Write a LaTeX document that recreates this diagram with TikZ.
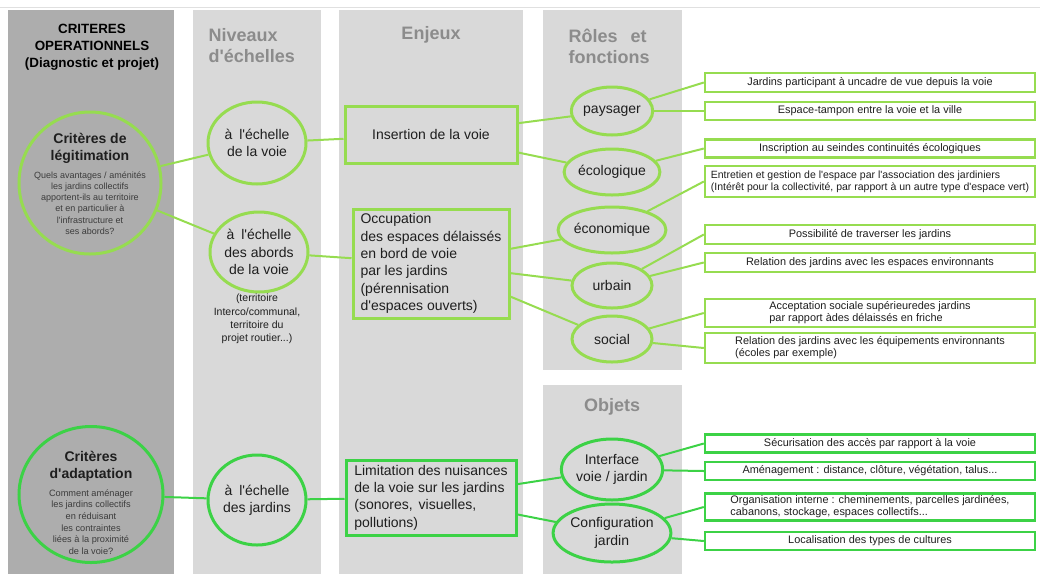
\documentclass[tikz,border=0pt]{standalone}
\usepackage{fontspec}
\setmainfont{Liberation Sans}[Ligatures=TeXOff]
\usetikzlibrary{shapes.geometric}
\definecolor{leafgreen}{HTML}{96DC50}
\definecolor{grassgreen}{HTML}{3CD246}
\definecolor{darkcol}{HTML}{ADADAD}
\definecolor{lightcol}{HTML}{D9D9D9}
\definecolor{headgray}{HTML}{8C8C8C}
\definecolor{inkgray}{HTML}{1E1E1E}
\definecolor{notegray}{HTML}{3C3C3C}
\newcommand{\txt}{\fontsize{14}{17.3}\selectfont}
\newcommand{\fact}[5]{\node[#1,minimum height=#4pt] (#2) at (870,#3) {#5};}
\tikzset{
  ovalA/.style={draw=leafgreen,line width=3pt,ellipse,inner sep=0pt,text=inkgray,font=\txt},
  ovalB/.style={ovalA,draw=grassgreen},
  boxA/.style={draw=leafgreen,line width=3pt,inner sep=3pt,text=inkgray,font=\txt},
  boxB/.style={boxA,draw=grassgreen},
  tagA/.style={draw=leafgreen,line width=2.4pt,minimum width=330pt,inner sep=2pt,align=left,text=inkgray,font=\fontsize{10.9}{12}\selectfont},
  tagB/.style={tagA,draw=grassgreen},
  wireA/.style={leafgreen,line width=2pt},
  wireB/.style={grassgreen,line width=2pt},
  headB/.style={align=left,text=headgray,font=\bfseries\fontsize{18}{21}\selectfont}
}
\begin{document}
\begin{tikzpicture}[x=1pt,y=-1pt]
\useasboundingbox (0,0) rectangle (1040,574);
\draw[black!12,line width=1pt] (0,7.5) -- (1040,7.5);
\fill[darkcol] (8,10) rectangle (174,574);
\fill[lightcol] (193,10) rectangle (321,574);\fill[lightcol] (339,10) rectangle (523,574);
\fill[lightcol] (543,10) rectangle (682,370);\fill[lightcol] (543,385) rectangle (682,574);
% column heads
\node[align=center,font=\bfseries\fontsize{13.4}{17}\selectfont] (crit) at (92,47) {CRITERES\\OPERATIONNELS\\(Diagnostic et projet)};
\node[headB,anchor=west] (niv) at (205,46) {Niveaux\\d'échelles};
\node[headB] (enj) at (431,35) {Enjeux};
\node[headB,anchor=west] (rol) at (565,46) {Rôles\hspace{13pt}et\\fonctions};
\node[headB] (obj) at (612,407) {Objets};
% criteria
\node[ovalA,minimum width=142pt,minimum height=142pt] (leg) at (90,183) {};
\node[align=center,font=\bfseries\fontsize{14}{17}\selectfont,text=inkgray] (legtitle) at (90,148) {Critères de\\légitimation};
\node[align=center,font=\fontsize{9}{11.3}\selectfont,text=notegray] (legnote) at (90,203) {Quels avantages / aménités\\les jardins collectifs\\apportent-ils au territoire\\et en particulier à\\l'infrastructure et\\ses abords?};
\node[ovalB,minimum width=144pt,minimum height=136pt] (ada) at (91,494.5) {};
\node[align=center,font=\bfseries\fontsize{14}{17}\selectfont,text=inkgray] (adatitle) at (91,466.5) {Critères\\d'adaptation};
\node[align=center,font=\fontsize{9.2}{11.6}\selectfont,text=notegray] (adanote) at (91,522) {Comment aménager\\les jardins collectifs\\en réduisant\\les contraintes\\liées à la proximité\\de la voie?};
% scales
\node[ovalA,minimum width=98pt,minimum height=82pt,align=center] (voie) at (257,143) {à\hspace{7pt}l'échelle\\de la voie};
\node[ovalA,minimum width=98pt,minimum height=80pt,align=center] (abords) at (259,252) {à\hspace{7pt}l'échelle\\des abords\\de la voie};
\node[align=center,text=inkgray,font=\fontsize{10.5}{13.2}\selectfont] (terr) at (257,319) {(territoire\\Interco/communal,\\territoire du\\projet routier...)};
\node[ovalB,minimum width=98pt,minimum height=90pt,align=center] (jard) at (257,500) {à\hspace{7pt}l'échelle\\des jardins};
% stakes
\node[boxA,minimum width=172pt,minimum height=57pt] (ins) at (431,134.5) {Insertion de la voie};
\node[boxA,minimum width=156pt,minimum height=109pt,align=left] (occ) at (431,263.5) {Occupation\\des espaces délaissés\\en bord de voie\\par les jardins\\(pérennisation\\d'espaces ouverts)};
\node[boxB,minimum width=170pt,minimum height=75pt,align=left] (lim) at (431,497.5) {Limitation des nuisances\\de la voie sur les jardins\\(sonores,\hspace{6pt}visuelles,\\pollutions)};
% roles and objects
\node[ovalA,minimum width=80pt,minimum height=48pt] (pay) at (612,111) {paysager};
\node[ovalA,minimum width=90pt,minimum height=46pt] (eco) at (612,172) {écologique};
\node[ovalA,minimum width=100pt,minimum height=46pt] (econ) at (612,230) {économique};
\node[ovalA,minimum width=80pt,minimum height=45pt] (urb) at (612,285.5) {urbain};
\node[ovalA,minimum width=80pt,minimum height=46pt] (soc) at (612,339) {social};
\node[ovalB,minimum width=101pt,minimum height=61pt,align=center] (intf) at (612,469.5) {Interface\\voie / jardin};
\node[ovalB,minimum width=115pt,minimum height=58pt,align=center] (conf) at (612,533) {Configuration\\jardin};
% details
\fact{tagA}{f1}{82.5}{19}{Jardins participant à uncadre de vue depuis la voie}
\fact{tagA}{f2}{111}{18}{Espace-tampon entre la voie et la ville}
\fact{tagA}{f3}{148.5}{18}{Inscription au seindes continuités écologiques}
\fact{tagA,font=\fontsize{10.5}{12}\selectfont}{f4}{181.5}{31}{Entretien et gestion de l'espace par l'association des jardiniers\\(Intérêt pour la collectivité, par rapport à un autre type d'espace vert)}
\fact{tagA}{f5}{234.5}{19}{Possibilité de traverser les jardins}
\fact{tagA}{f6}{262.5}{19}{Relation des jardins avec les espaces environnants}
\fact{tagA}{f7}{313}{28}{Acceptation sociale supérieuredes jardins\\par rapport àdes délaissés en friche}
\fact{tagA}{f8}{348}{30}{Relation des jardins avec les équipements environnants\\(écoles par exemple)}
\fact{tagB}{f9}{443.5}{18}{Sécurisation des accès par rapport à la voie}
\fact{tagB}{f10}{471}{18}{Aménagement : distance, clôture, végétation, talus...}
\fact{tagB}{f11}{507}{27}{Organisation interne : cheminements, parcelles jardinées,\\cabanons, stockage, espaces collectifs...}
\fact{tagB}{f12}{541}{18}{Localisation des types de cultures}
% links
\draw[wireA] (leg) -- (voie);\draw[wireA] (leg) -- (abords);
\draw[wireA] (voie) -- (ins);\draw[wireA] (abords) -- (occ);
\draw[wireA] (ins) -- (pay);\draw[wireA] (ins) -- (eco);
\draw[wireA] (occ) -- (econ);\draw[wireA] (occ) -- (urb);\draw[wireA] (occ) -- (soc);
\draw[wireA] (pay) -- (f1.west);\draw[wireA] (pay) -- (f2.west);\draw[wireA] (eco) -- (f3.west);\draw[wireA] (econ) -- (f4.west);
\draw[wireA] (urb) -- (f5.west);\draw[wireA] (urb) -- (f6.west);\draw[wireA] (soc) -- (f7.west);\draw[wireA] (soc) -- (f8.west);
\draw[wireB] (ada) -- (jard);\draw[wireB] (jard) -- (lim);
\draw[wireB] (lim) -- (intf);\draw[wireB] (lim) -- (conf);
\draw[wireB] (intf) -- (f9.west);\draw[wireB] (intf) -- (f10.west);\draw[wireB] (conf) -- (f11.west);\draw[wireB] (conf) -- (f12.west);
\end{tikzpicture}
\end{document}
